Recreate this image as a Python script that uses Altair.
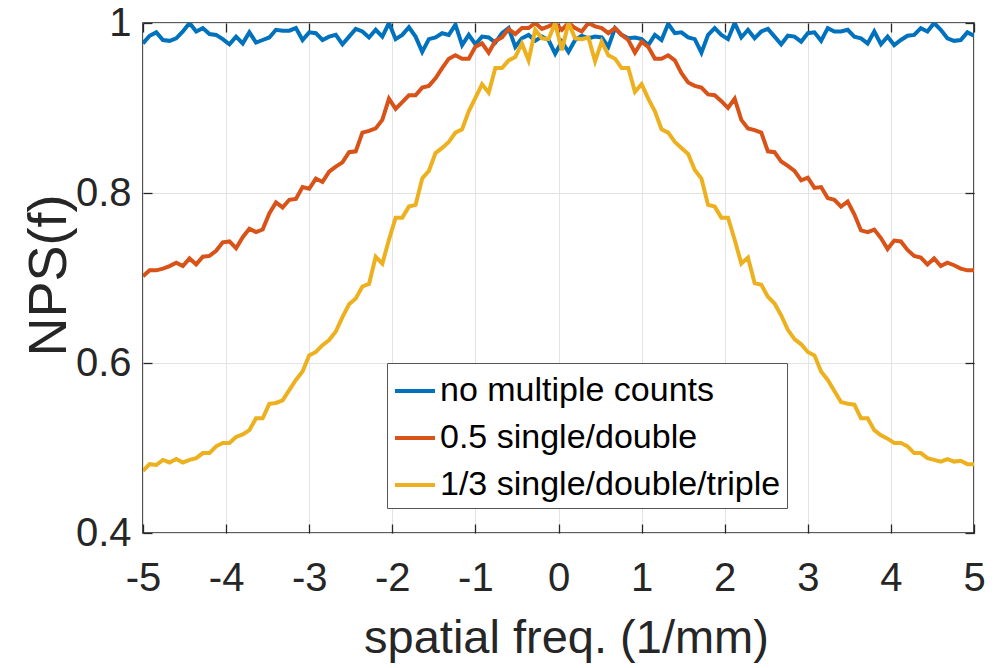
import altair as alt
import numpy as np
import pandas as pd

series_names = ["no multiple counts", "0.5 single/double", "1/3 single/double/triple"]
series_colors = ["#0072BD", "#D95319", "#EDB120"]
x_ticks = [-5, -4, -3, -2, -1, 0, 1, 2, 3, 4, 5]
y_ticks = [0.4, 0.6, 0.8, 1.0]

blue = [0.976, 0.985, 0.989, 0.980, 0.979, 0.982, 0.990, 1.000, 0.990, 0.994,
        0.987, 0.986, 0.981, 0.975, 0.984, 0.976, 0.989, 0.977, 0.980, 0.983,
        0.992, 0.991, 0.991, 0.994, 0.980, 0.989, 0.988, 0.980, 0.984, 0.986,
        0.975, 0.984, 0.993, 0.990, 0.983, 0.992, 0.984, 1.000, 0.981, 0.986,
        0.995, 0.984, 0.966, 0.981, 0.983, 0.988, 0.986, 0.998, 0.974, 0.986,
        0.975, 0.984, 0.983, 0.977, 0.988, 0.994, 0.972, 0.982, 0.986, 0.979,
        0.984, 0.980, 0.964, 0.978, 0.966, 0.980, 0.985, 0.982, 0.984, 0.983,
        0.972, 0.994, 0.986, 0.982, 0.983, 0.981, 0.974, 0.986, 0.980, 0.999,
        0.988, 0.989, 0.983, 0.981, 0.965, 0.986, 0.994, 0.986, 0.981, 1.000,
        0.983, 0.992, 0.982, 0.990, 0.993, 0.984, 0.975, 0.985, 0.984, 0.978,
        0.988, 0.989, 0.979, 0.994, 0.990, 0.990, 0.992, 0.984, 0.982, 0.976,
        0.990, 0.975, 0.984, 0.974, 0.980, 0.985, 0.986, 0.994, 0.990, 1.000,
        0.992, 0.982, 0.979, 0.980, 0.989, 0.985]

red = [0.702, 0.709, 0.709, 0.711, 0.714, 0.718, 0.714, 0.723, 0.716, 0.725,
       0.726, 0.732, 0.742, 0.743, 0.735, 0.748, 0.758, 0.754, 0.757, 0.776,
       0.789, 0.783, 0.792, 0.793, 0.807, 0.805, 0.817, 0.813, 0.825, 0.831,
       0.836, 0.848, 0.849, 0.871, 0.873, 0.876, 0.886, 0.911, 0.899, 0.907,
       0.915, 0.915, 0.924, 0.926, 0.935, 0.947, 0.958, 0.962, 0.958, 0.958,
       0.972, 0.976, 0.965, 0.979, 0.983, 0.993, 0.987, 0.994, 0.994, 1.000,
       0.993, 0.996, 1.000, 0.992, 1.000, 0.994, 0.990, 1.000, 0.996, 0.994,
       0.988, 0.994, 0.986, 0.980, 0.965, 0.978, 0.972, 0.958, 0.958, 0.962,
       0.956, 0.941, 0.930, 0.926, 0.924, 0.916, 0.915, 0.908, 0.900, 0.911,
       0.886, 0.876, 0.874, 0.871, 0.849, 0.848, 0.837, 0.832, 0.826, 0.815,
       0.818, 0.806, 0.807, 0.794, 0.792, 0.784, 0.790, 0.775, 0.756, 0.754,
       0.757, 0.747, 0.734, 0.744, 0.743, 0.733, 0.726, 0.724, 0.716, 0.723,
       0.714, 0.718, 0.715, 0.711, 0.709, 0.709]

yellow = [0.473, 0.481, 0.480, 0.486, 0.483, 0.487, 0.483, 0.486, 0.488, 0.494,
          0.494, 0.502, 0.506, 0.506, 0.513, 0.516, 0.521, 0.535, 0.535, 0.552,
          0.553, 0.556, 0.568, 0.580, 0.590, 0.609, 0.613, 0.621, 0.627, 0.637,
          0.654, 0.669, 0.676, 0.690, 0.693, 0.725, 0.717, 0.745, 0.771, 0.771,
          0.784, 0.786, 0.817, 0.826, 0.847, 0.853, 0.860, 0.871, 0.875, 0.896,
          0.912, 0.928, 0.918, 0.947, 0.947, 0.956, 0.960, 0.976, 0.956, 0.992,
          0.982, 0.981, 1.000, 0.968, 1.000, 0.982, 0.981, 0.983, 0.955, 0.978,
          0.962, 0.958, 0.947, 0.947, 0.919, 0.928, 0.911, 0.896, 0.875, 0.871,
          0.860, 0.853, 0.846, 0.827, 0.817, 0.786, 0.784, 0.771, 0.771, 0.745,
          0.717, 0.724, 0.694, 0.692, 0.678, 0.670, 0.656, 0.639, 0.628, 0.622,
          0.613, 0.609, 0.590, 0.580, 0.567, 0.554, 0.552, 0.551, 0.535, 0.535,
          0.521, 0.515, 0.511, 0.506, 0.506, 0.502, 0.494, 0.494, 0.488, 0.486,
          0.484, 0.487, 0.484, 0.485, 0.481, 0.481]

freq = np.linspace(-5, 5, len(blue))

rows = []
for k, (name, vals) in enumerate(zip(series_names, [blue, red, yellow])):
    for f, v in zip(freq, vals):
        rows.append({"freq": float(f), "nps": v, "series": name, "k": k})
df = pd.DataFrame(rows)

FONT = "Liberation Sans"
TXT = "#262626"
GRID = "#e3e3e3"

xscale = alt.Scale(domain=[-5, 5], nice=False, zero=False)
yscale = alt.Scale(domain=[0.4, 1.0], nice=False, zero=False)

lines = alt.Chart(df).mark_line(strokeWidth=4, clip=True).encode(
    x=alt.X("freq:Q", scale=xscale,
            axis=alt.Axis(values=x_ticks, labelExpr="datum.value + ''",
                          title="spatial freq. (1/mm)", grid=True, gridColor=GRID,
                          gridWidth=1, ticks=False, domain=False,
                          labelFont=FONT, labelFontSize=40, labelColor=TXT,
                          labelPadding=25, labelFlush=False,
                          titleFont=FONT, titleFontSize=47, titleFontWeight="normal",
                          titleColor=TXT, titleBaseline="alphabetic", titleY=119,
                          titleX=423)),
    y=alt.Y("nps:Q", scale=yscale,
            axis=alt.Axis(values=y_ticks, labelExpr="datum.value + ''",
                          title="NPS(f)", grid=True, gridColor=GRID, gridWidth=1,
                          ticks=False, domain=False,
                          labelFont=FONT, labelFontSize=40, labelColor=TXT,
                          labelPadding=12, labelFlush=False,
                          titleFont=FONT, titleFontSize=54, titleFontWeight="normal",
                          titleColor=TXT, titleX=-94, titleY=252,
                          titleBaseline="middle")),
    color=alt.Color("series:N", sort=series_names,
                    scale=alt.Scale(domain=series_names, range=series_colors),
                    legend=alt.Legend(title=None, orient="none", legendX=244, legendY=340,
                                      symbolType="stroke", symbolSize=1600,
                                      symbolStrokeWidth=4, labelFont=FONT,
                                      labelFontSize=34, labelColor="black",
                                      labelLimit=600, labelOffset=3,
                                      strokeColor="#555555", fillColor="white",
                                      padding=6, rowPadding=8)),
    order=alt.Order("k:Q"),
)

ticks_bl = alt.Chart(df).mark_point(opacity=0).encode(
    x=alt.X("freq:Q", scale=xscale, axis=alt.Axis(orient="bottom", values=x_ticks, labels=False,
            domain=False, grid=False, title=None, tickColor=TXT, tickWidth=1.3,
            tickSize=9, offset=-9)),
    y=alt.Y("nps:Q", scale=yscale, axis=alt.Axis(orient="left", values=y_ticks, labels=False,
            domain=False, grid=False, title=None, tickColor=TXT, tickWidth=1.3,
            tickSize=9, offset=-9)),
)

ticks_tr = alt.Chart(df).mark_point(opacity=0).encode(
    x=alt.X("freq:Q", scale=xscale, axis=alt.Axis(orient="top", values=x_ticks, labels=False,
            domain=False, grid=False, title=None, tickColor=TXT, tickWidth=1.3,
            tickSize=9, offset=-9)),
    y=alt.Y("nps:Q", scale=yscale, axis=alt.Axis(orient="right", values=y_ticks, labels=False,
            domain=False, grid=False, title=None, tickColor=TXT, tickWidth=1.3,
            tickSize=9, offset=-9)),
)

chart = alt.layer(lines, ticks_bl, ticks_tr).resolve_axis(
    x="independent", y="independent"
).properties(
    width=831, height=510,
    autosize=alt.AutoSizeParams(type="none"),
    padding={"left": 143, "top": 23, "right": 30, "bottom": 135},
    background="white",
).configure_view(stroke=TXT, strokeWidth=1.6)

chart.save("out.html", embed_options={"renderer": "svg", "actions": False})
